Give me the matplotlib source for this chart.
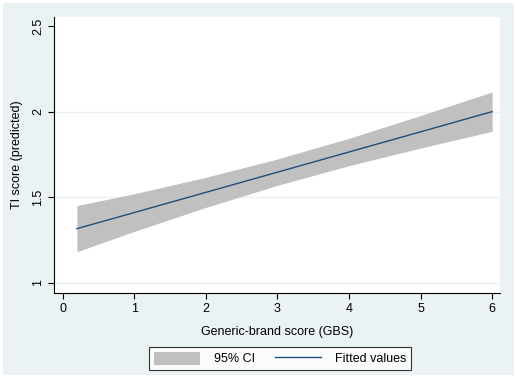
import matplotlib
matplotlib.use("Agg")
import matplotlib.pyplot as plt
from matplotlib.patches import Patch, Rectangle
from matplotlib.lines import Line2D

plt.rcParams['font.family'] = ['Liberation Sans', 'DejaVu Sans']

# values
gbs = [0.2, 1, 2, 3, 4, 5, 6]
fitted = [1.316, 1.410, 1.528, 1.646, 1.764, 1.882, 2.000]
ci_low = [1.181, 1.300, 1.440, 1.569, 1.684, 1.787, 1.885]
ci_high = [1.451, 1.520, 1.616, 1.723, 1.844, 1.977, 2.115]

x_ticks = [0, 1, 2, 3, 4, 5, 6]
y_ticks = [1, 1.5, 2, 2.5]
y_labels = ["1", "1.5", "2", "2.5"]

W, H = 517, 378
fig = plt.figure(figsize=(W / 100, H / 100), dpi=100, facecolor='white')
fig.patches.append(Rectangle((3 / W, 3 / H), (W - 6) / W, (H - 6) / H,
                             transform=fig.transFigure, facecolor='#EAF2F3',
                             edgecolor='none', zorder=-10))

ax = fig.add_axes([54 / W, 1 - 293 / H, (500 - 54) / W, (293 - 17) / H])
ax.set_facecolor('white')

ax.fill_between(gbs, ci_low, ci_high, color='#C0C0C0', linewidth=0, zorder=2)
ax.plot(gbs, fitted, color='#1F4E79', linewidth=1.0, zorder=3)

for yv in [1, 1.5, 2]:
    ax.axhline(yv, color='#EAF2F3', linewidth=1, zorder=1)

ax.set_xlim(-0.12, 6.11)
ax.set_ylim(0.94, 2.553)
ax.set_xticks(x_ticks)
ax.set_yticks(y_ticks)
ax.set_yticklabels(y_labels, rotation=90, va='center')
ax.tick_params(direction='out', length=4, width=0.8, labelsize=9, pad=3)

for side in ['top', 'right']:
    ax.spines[side].set_visible(False)
for side in ['left', 'bottom']:
    ax.spines[side].set_color('black')
    ax.spines[side].set_linewidth(0.8)

ax.set_xlabel("Generic-brand score (GBS)", fontsize=9, labelpad=8)
ax.set_ylabel("TI score (predicted)", fontsize=9, labelpad=7)

handles = [Patch(facecolor='#C0C0C0', edgecolor='none'),
           Line2D([], [], color='#1F4E79', linewidth=1.0)]
leg = fig.legend(handles, ["95% CI", "Fitted values"], ncol=2,
                 loc='center', bbox_to_anchor=(280 / W, 1 - 358.5 / H),
                 fontsize=9, frameon=True, fancybox=False, edgecolor='black',
                 handlelength=3.7, handleheight=1.2, columnspacing=1.6,
                 borderpad=0.4, handletextpad=1.1)
leg.get_frame().set_linewidth(0.8)

fig.savefig("out.png", dpi=100, facecolor=fig.get_facecolor())
